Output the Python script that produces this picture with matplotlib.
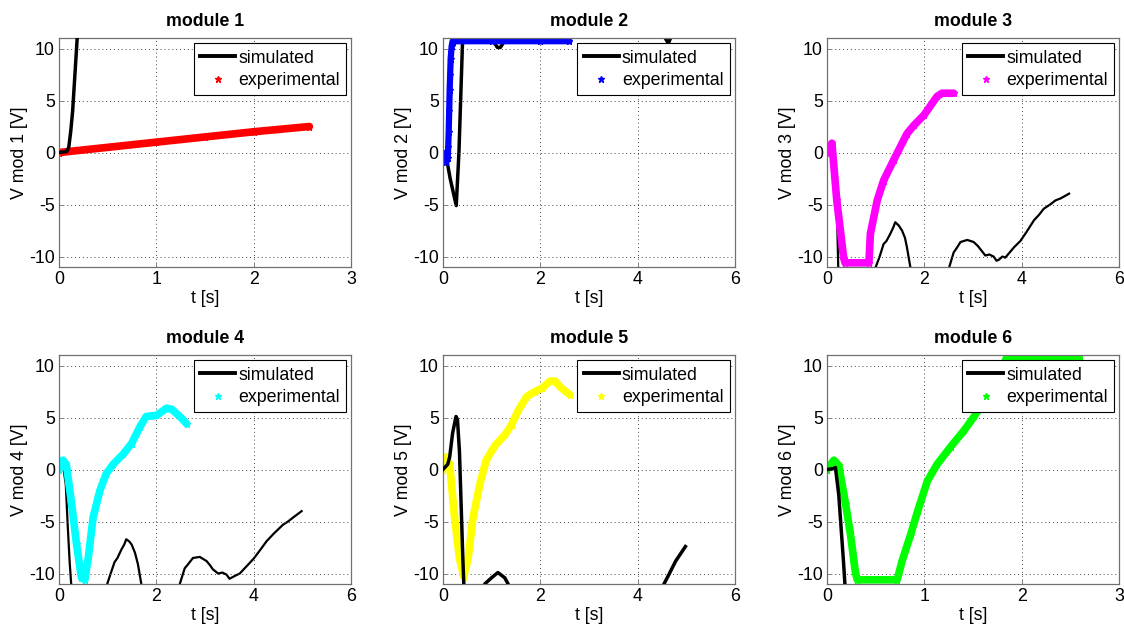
import numpy as np
import matplotlib
matplotlib.use('Agg')
import matplotlib.pyplot as plt

plt.rcParams['font.family'] = ['Liberation Sans', 'DejaVu Sans']
plt.rcParams['font.size'] = 12.8
plt.rcParams['axes.unicode_minus'] = False

# experimental curves
exp1_t = [0.0, 0.5, 1.0, 1.5, 2.0, 2.57]
exp1_v = [0.0, 0.5, 1.0, 1.5, 2.0, 2.5]

exp2_t = [0.0, 0.03, 0.07, 0.1, 0.11, 0.12, 0.13, 0.14, 0.15, 0.16, 0.18, 0.2, 1.0, 2.0, 2.6]
exp2_v = [0.0, -0.3, -0.9, -0.5, 0.5, 2.0, 4.0, 6.0, 7.5, 9.0, 10.2, 10.7, 10.7, 10.7, 10.7]

exp3_t = [0.0, 0.1, 0.2, 0.34, 0.37, 0.86, 0.89, 1.03, 1.16, 1.37, 1.64, 1.78, 1.99, 2.26, 2.36, 2.6]
exp3_v = [0.0, 0.9, -4.6, -10.1, -10.6, -10.6, -7.8, -4.6, -2.7, -0.7, 1.8, 2.6, 3.6, 5.4, 5.7, 5.7]

exp4_t = [0.0, 0.08, 0.15, 0.25, 0.36, 0.46, 0.53, 0.6, 0.7, 0.84, 0.97, 1.11, 1.32, 1.49, 1.66, 1.79, 2.0, 2.21, 2.31, 2.48, 2.62]
exp4_v = [0.0, 0.9, 0.5, -3.0, -7.2, -10.4, -10.6, -8.5, -4.6, -2.0, -0.4, 0.5, 1.5, 2.5, 4.1, 5.1, 5.2, 5.9, 5.8, 5.1, 4.4]

exp5_t = [0.0, 0.07, 0.14, 0.24, 0.34, 0.43, 0.52, 0.62, 0.76, 0.89, 1.07, 1.27, 1.41, 1.55, 1.72, 1.89, 2.03, 2.2, 2.3, 2.44, 2.61]
exp5_v = [0.0, 1.2, 0.5, -4.6, -8.5, -10.3, -8.5, -4.6, -1.4, 0.9, 2.3, 3.3, 4.3, 5.7, 7.0, 7.5, 7.8, 8.5, 8.5, 7.8, 7.2]

exp6_t = [0.0, 0.07, 0.12, 0.19, 0.24, 0.29, 0.31, 0.72, 0.77, 0.86, 0.93, 1.03, 1.13, 1.27, 1.41, 1.51, 1.62, 1.75, 1.84, 2.59]
exp6_v = [0.0, 0.9, 0.4, -3.3, -6.2, -9.8, -10.6, -10.6, -8.8, -6.2, -4.0, -1.1, 0.5, 2.2, 3.8, 5.1, 6.7, 8.6, 10.7, 10.7]

# simulated curves (values outside +-11 are clipped by the axes)
sim1_t = [0.0, 0.08, 0.1, 0.12, 0.14, 0.16, 0.18, 0.2]
sim1_v = [0.0, 0.1, 0.5, 2.0, 4.0, 7.0, 10.0, 13.0]

sim2_t = [0.0, 0.07, 0.15, 0.275, 0.33, 0.41, 0.6, 0.9, 1.05, 1.12, 1.18, 1.25, 1.35, 3.0, 4.5, 4.63, 4.72, 5.0]
sim2_v = [0.0, -0.4, -2.5, -5.1, 0.0, 11.5, 13.0, 12.0, 10.6, 10.1, 10.1, 10.6, 11.5, 15.0, 11.5, 10.5, 11.5, 14.0]

sim3_t = [0.0, 0.08, 0.14, 0.18, 0.21, 0.23, 0.26, 0.9, 1.0, 1.08, 1.16, 1.22, 1.3, 1.36, 1.4, 1.47, 1.54, 1.6, 1.64, 1.71, 1.75,
          2.45, 2.51, 2.6, 2.66, 2.74, 2.88, 3.01, 3.1, 3.15, 3.25, 3.33, 3.42, 3.48, 3.53, 3.6, 3.66, 3.75, 3.84, 3.97, 4.1,
          4.25, 4.35, 4.45, 4.58, 4.69, 4.8, 4.97]
sim3_v = [0.0, 0.5, -1.0, -3.5, -7.0, -11.0, -14.0, -14.0, -11.0, -10.0, -8.8, -8.5, -7.8, -7.2, -6.7, -7.0, -7.5, -8.2, -9.1, -11.0, -14.0,
          -14.0, -11.0, -9.6, -9.2, -8.6, -8.4, -8.6, -9.0, -9.3, -9.9, -9.8, -10.0, -10.4, -10.3, -10.0, -10.1, -9.6, -9.1, -8.5, -7.6,
          -6.5, -6.0, -5.4, -5.0, -4.6, -4.4, -3.95]

sim4_t = [0.0, 0.08, 0.14, 0.18, 0.22, 0.25, 0.27, 0.9, 0.99, 1.06, 1.14, 1.2, 1.28, 1.34, 1.38, 1.44, 1.49, 1.56, 1.62, 1.69, 1.72,
          2.4, 2.48, 2.58, 2.65, 2.75, 2.89, 3.03, 3.1, 3.16, 3.27, 3.35, 3.44, 3.5, 3.54, 3.62, 3.71, 3.85, 3.99, 4.12,
          4.26, 4.4, 4.6, 4.7, 4.81, 4.98]
sim4_v = [0.0, 0.5, -1.5, -5.5, -9.0, -11.0, -14.0, -14.0, -11.0, -10.0, -8.9, -8.5, -7.7, -7.2, -6.7, -6.9, -7.2, -8.0, -9.1, -11.0, -14.0,
          -14.0, -11.0, -9.5, -9.1, -8.5, -8.4, -8.8, -9.2, -9.6, -10.0, -9.9, -10.1, -10.5, -10.4, -10.2, -10.0, -9.3, -8.6, -7.8,
          -6.9, -6.2, -5.3, -5.0, -4.6, -4.0]

sim5_t = [0.0, 0.1, 0.14, 0.2, 0.27, 0.3, 0.34, 0.41, 0.43, 0.45, 0.8, 0.86, 1.0, 1.13, 1.27, 1.34, 1.4, 4.4, 4.54, 4.64, 4.78, 4.98]
sim5_v = [0.0, 0.5, 1.2, 3.5, 5.1, 4.8, 1.8, -8.5, -11.0, -14.0, -14.0, -11.0, -10.4, -9.9, -10.4, -11.0, -14.0, -14.0, -11.0, -10.1, -8.8, -7.4]

sim6_t = [0.0, 0.07, 0.086, 0.12, 0.17, 0.19]
sim6_v = [0.0, 0.1, 0.2, -2.4, -9.0, -12.0]

exp_t = [exp1_t, exp2_t, exp3_t, exp4_t, exp5_t, exp6_t]
exp_v = [exp1_v, exp2_v, exp3_v, exp4_v, exp5_v, exp6_v]
sim_t = [sim1_t, sim2_t, sim3_t, sim4_t, sim5_t, sim6_t]
sim_v = [sim1_v, sim2_v, sim3_v, sim4_v, sim5_v, sim6_v]
exp_colors = ['#ff0000', '#0000ff', '#ff00ff', '#00ffff', '#ffff00', '#00ff00']
sim_width = [2.5, 2.5, 1.6, 1.6, 2.5, 2.5]
exp_width = [5.5, 4.5, 5.5, 5.5, 5.5, 5.5]
sim_on_top = [True, False, False, False, True, True]
x_max = [3, 6, 6, 6, 6, 3]

fig = plt.figure(figsize=(11.24, 6.34), dpi=100)
lefts = [0.0525, 0.394, 0.7358]
bottoms = [0.5789, 0.0789]
w, h = 0.26, 0.361

for i in range(6):
    ax = fig.add_axes([lefts[i % 3], bottoms[i // 3], w, h])
    z_sim = 4 if sim_on_top[i] else 1
    ax.plot(sim_t[i], sim_v[i], color='k', lw=sim_width[i], label='simulated', zorder=z_sim)
    ax.plot(exp_t[i], exp_v[i], color=exp_colors[i], lw=exp_width[i],
            solid_capstyle='round', solid_joinstyle='round', zorder=2)
    ax.plot(exp_t[i], exp_v[i], '*', color=exp_colors[i], ms=5, label='experimental', zorder=2)

    ax.set_xlim(0, x_max[i])
    ax.set_ylim(-11, 11)
    ax.set_yticks([-10, -5, 0, 5, 10])
    ax.set_xticks(np.arange(0, x_max[i] + 1, 1 if x_max[i] == 3 else 2))
    ax.grid(True, linestyle=(0, (1, 3)), color='#444444', lw=0.7)
    ax.tick_params(direction='in', length=3, width=0.6, color='#707070', pad=3)
    for s in ax.spines.values():
        s.set_linewidth(0.9)
        s.set_color('#707070')
    ax.set_title(f'module {i + 1}', fontweight='bold', fontsize=12.8, pad=8.5)
    ax.set_xlabel('t [s]', labelpad=1)
    ax.set_ylabel(f'V mod {i + 1} [V]', labelpad=1)
    leg = ax.legend(loc='upper right', fancybox=False, framealpha=1, edgecolor='k',
                    borderaxespad=0.3, handlelength=2.0, handletextpad=0.15,
                    borderpad=0.35, labelspacing=0.3, fontsize=12.8)
    leg.get_frame().set_linewidth(0.8)
    leg.get_lines()[0].set_linewidth(2.8)

plt.savefig('out.png', dpi=100)
